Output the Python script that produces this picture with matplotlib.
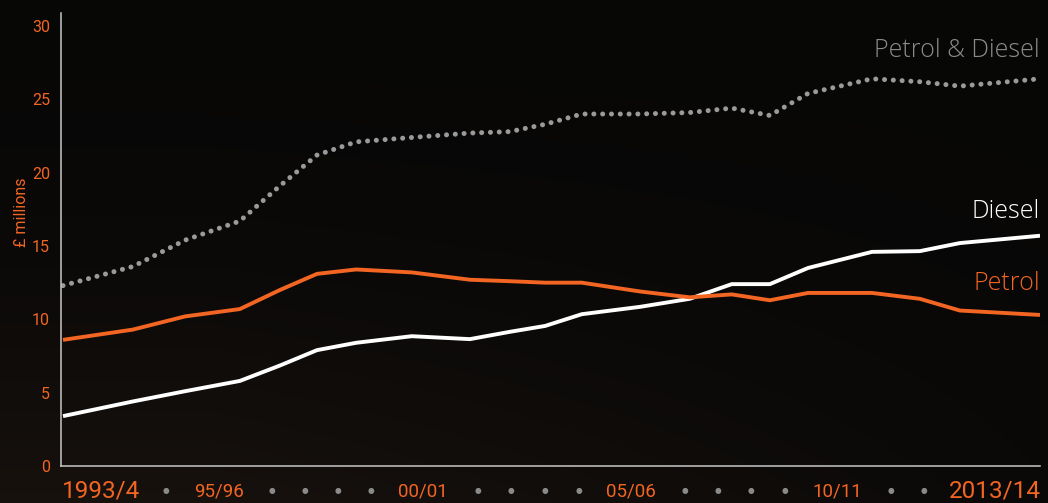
import matplotlib
matplotlib.use("Agg")
import matplotlib.pyplot as plt
import numpy as np

# ---- data ----
years = ["1993/4", "94/95", "95/96", "96/97", "97/98", "98/99", "99/00", "00/01",
         "01/02", "02/03", "03/04", "04/05", "05/06", "06/07", "07/08", "08/09",
         "09/10", "10/11", "11/12", "12/13", "2013/14"]
# horizontal position of each year as drawn in the original (uneven spacing)
x_pos = [0.00, 1.43, 2.50, 3.62, 4.44, 5.20, 6.00, 7.14, 8.33, 9.15, 9.87,
         10.62, 11.81, 12.83, 13.69, 14.47, 15.25, 16.56, 17.54, 18.36, 20.00]
petrol = [8.6, 9.3, 10.2, 10.7, 12.0, 13.1, 13.4, 13.2, 12.7, 12.6, 12.5,
          12.5, 11.9, 11.5, 11.7, 11.3, 11.8, 11.8, 11.4, 10.6, 10.3]
diesel = [3.4, 4.4, 5.1, 5.8, 6.85, 7.9, 8.4, 8.85, 8.65, 9.15, 9.55,
          10.35, 10.85, 11.4, 12.4, 12.4, 13.5, 14.6, 14.65, 15.2, 15.7]
total = [12.3, 13.6, 15.4, 16.7, 19.1, 21.2, 22.1, 22.4, 22.7, 22.8, 23.3,
         24.0, 24.0, 24.1, 24.4, 23.9, 25.4, 26.4, 26.2, 25.9, 26.4]
yticks = [0, 5, 10, 15, 20, 25, 30]
row_labels = {0: "1993/4", 2: "95/96", 7: "00/01", 12: "05/06", 17: "10/11", 20: "2013/14"}

ORANGE = "#f26522"
GREY = "#9a9a9a"
BG = "#080706"

W, H = 1048, 503
fig = plt.figure(figsize=(W / 100, H / 100), dpi=100, facecolor=BG)

# subtle background gradient
bg = fig.add_axes([0, 0, 1, 1], zorder=-10)
yy, xx = np.mgrid[0:1:200j, 0:1:400j]
warm = np.clip((yy) * 1.0, 0, 1) ** 2 * np.clip(1.2 - xx, 0, 1)
img = np.zeros((200, 400, 3))
img[..., 0] = 0.030 + 0.060 * warm
img[..., 1] = 0.028 + 0.040 * warm
img[..., 2] = 0.026 + 0.028 * warm
bg.imshow(img, extent=[0, 1, 0, 1], aspect="auto", origin="upper")
bg.axis("off")

left_px, right_px, bottom_px, top_px = 61, 1040, 466, 13
ax = fig.add_axes([left_px / W, (H - bottom_px) / H,
                   (right_px - left_px) / W, (bottom_px - top_px) / H])
ax.set_facecolor("none")

ax.plot(x_pos, total, color=GREY, lw=3.6, linestyle=(0, (0.01, 1.75)),
        dash_capstyle="round", solid_capstyle="round")
ax.plot(x_pos, diesel, color="white", lw=2.8, solid_joinstyle="miter",
        solid_capstyle="butt")
ax.plot(x_pos, petrol, color=ORANGE, lw=2.8, solid_joinstyle="miter",
        solid_capstyle="butt")

px_per_unit = (1040 - 63) / 20.0
ax.set_xlim(-(63 - left_px) / px_per_unit, 20)
ax.set_ylim(0, 30 * (bottom_px - top_px) / (bottom_px - 26))

for s in ["top", "right"]:
    ax.spines[s].set_visible(False)
for s in ["left", "bottom"]:
    ax.spines[s].set_color("#c8c8c8")
    ax.spines[s].set_linewidth(1.1)

ax.set_xticks([])
ax.set_yticks(yticks)
ax.set_yticklabels([str(v) for v in yticks], color=ORANGE, fontsize=11.5,
                   fontfamily="Roboto")
ax.tick_params(axis="y", length=0, pad=8)
ax.set_ylabel("£ millions", color=ORANGE, fontsize=11.5, fontfamily="Roboto")
ax.yaxis.set_label_coords(-0.033, 0.561)

# series labels
lab_kw = dict(fontsize=18, ha="right", va="bottom", fontfamily="Open Sans",
              fontweight="light")
ax.text(20, 27.5, "Petrol & Diesel", color="#8c8c8c", **lab_kw)
ax.text(20, 16.5, "Diesel", color="white", **lab_kw)
ax.text(20, 11.6, "Petrol", color=ORANGE, **lab_kw)

# label row below axis (decorative year row)
row_px = [100, 166, 219, 272, 305, 338, 371, 423, 478, 511, 545, 579, 631,
          685, 718, 751, 785, 837, 891, 924, 997]
row_y = (H - 491) / H
for i, px in enumerate(row_px):
    if i in row_labels:
        if i == 0:
            fig.text(62 / W, row_y, row_labels[i], color=ORANGE, fontsize=17.5,
                     ha="left", va="center", fontfamily="Roboto")
        elif i == 20:
            fig.text(1041 / W, row_y, row_labels[i], color=ORANGE,
                     fontsize=17.5, ha="right", va="center", fontfamily="Roboto")
        else:
            fig.text(px / W, row_y, row_labels[i], color=ORANGE, fontsize=13.5,
                     ha="center", va="center", fontfamily="Roboto")
    else:
        fig.text(px / W, row_y, "●", color="#8a8a8a", fontsize=5.5,
                 ha="center", va="center", fontfamily="DejaVu Sans")

fig.savefig("out.png", dpi=100, facecolor=fig.get_facecolor())
